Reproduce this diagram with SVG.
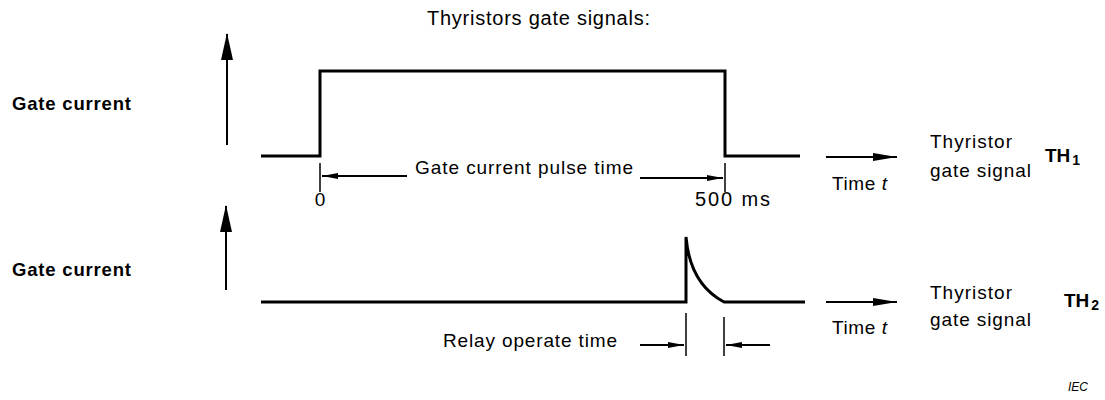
<svg xmlns="http://www.w3.org/2000/svg" width="1105" height="400" viewBox="0 0 1105 400">
<style>
text{font-family:"Liberation Sans",Arial,sans-serif;fill:#000}
.lbl{font-size:19px}
.b{font-weight:bold;font-size:18.5px}
.th{font-weight:bold;font-size:19px}
.w{fill:none;stroke:#000;stroke-width:3;stroke-linejoin:miter}
.t{stroke:#000;stroke-width:1.5}
.a{stroke:#000;stroke-width:2}
</style>
<defs>
<marker id="ah" viewBox="0 0 24 10" refX="24" refY="5" markerWidth="24" markerHeight="10" markerUnits="userSpaceOnUse" orient="auto"><path d="M0,1 L24,5 L0,9 Z" fill="#000"/></marker>
<marker id="ahs" viewBox="0 0 16 8" refX="16" refY="4" markerWidth="16" markerHeight="8" markerUnits="userSpaceOnUse" orient="auto"><path d="M0,1 L16,4 L0,7 Z" fill="#000"/></marker>
</defs>
<text x="427" y="25" style="font-size:20px" textLength="223" lengthAdjust="spacing">Thyristors gate signals:</text>
<g id="axis1">
<line class="a" x1="227" y1="145" x2="227" y2="34"/>
<path d="M227,33 L233,60 L221,60 Z" fill="#000"/>
<text class="b" x="12" y="110" textLength="119" lengthAdjust="spacing">Gate current</text>
</g>
<g id="axis2">
<line class="a" x1="226" y1="290" x2="226" y2="206"/>
<path d="M226,205 L232,232 L220,232 Z" fill="#000"/>
<text class="b" x="12" y="276" textLength="119" lengthAdjust="spacing">Gate current</text>
</g>
<g id="signal1">
<polyline class="w" points="261,156 320,156 320,71 725,71 725,156 800,156"/>
<text class="lbl" x="320" y="206" text-anchor="middle">0</text>
<text x="695" y="206" style="font-size:20px" textLength="75" lengthAdjust="spacing">500 ms</text>
<text class="lbl" x="415" y="174" textLength="218" lengthAdjust="spacing">Gate current pulse time</text>
</g>
<g id="signal2">
<path class="w" d="M261,302 L686,302 L686,237 Q690,284 724,302 L805,302"/>
<text class="lbl" x="443" y="347" textLength="174" lengthAdjust="spacing">Relay operate time</text>
</g>
<g id="label1">
<text class="lbl" x="832" y="190" textLength="55" lengthAdjust="spacing">Time <tspan font-style="italic">t</tspan></text>
<text class="lbl" x="930" y="148" textLength="82" lengthAdjust="spacing">Thyristor</text>
<text class="lbl" x="930" y="177" textLength="101" lengthAdjust="spacing">gate signal</text>
<text class="th" x="1045" y="162">TH<tspan font-size="14" dx="2" dy="3">1</tspan></text>
</g>
<g id="label2">
<text class="lbl" x="832" y="334" textLength="55" lengthAdjust="spacing">Time <tspan font-style="italic">t</tspan></text>
<text class="lbl" x="930" y="299" textLength="82" lengthAdjust="spacing">Thyristor</text>
<text class="lbl" x="930" y="326" textLength="101" lengthAdjust="spacing">gate signal</text>
<text class="th" x="1064" y="307">TH<tspan font-size="14" dx="2" dy="3">2</tspan></text>
</g>
<text x="1068" y="391" style="font-size:12px;font-style:italic">IEC</text>
<g id="connectors">
<line class="t" x1="320" y1="163" x2="320" y2="192"/>
<line class="t" x1="725" y1="163" x2="725" y2="192"/>
<line class="a" x1="407" y1="176" x2="322" y2="176" marker-end="url(#ahs)"/>
<line class="a" x1="640" y1="178" x2="723" y2="178" marker-end="url(#ahs)"/>
<line class="a" x1="826" y1="157" x2="897" y2="157" marker-end="url(#ah)"/>
<line class="a" x1="826" y1="302" x2="897" y2="302" marker-end="url(#ah)"/>
<line class="t" x1="686" y1="313" x2="686" y2="356"/>
<line class="t" x1="724" y1="317" x2="724" y2="356"/>
<line class="a" x1="640" y1="345" x2="684" y2="345" marker-end="url(#ahs)"/>
<line class="a" x1="770" y1="345" x2="726" y2="345" marker-end="url(#ahs)"/>
</g>
</svg>
